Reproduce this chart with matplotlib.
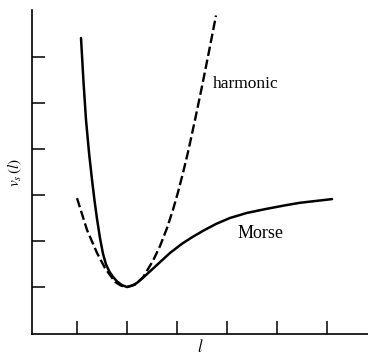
import matplotlib
matplotlib.use('Agg')
import matplotlib.pyplot as plt

# values (x and y in tick units)
morse_l = [1.08, 1.13, 1.18, 1.24, 1.30, 1.35, 1.40, 1.46, 1.52, 1.58, 1.65, 1.72, 1.80,
           1.90, 2.00, 2.10, 2.20, 2.32, 2.45, 2.60, 2.86, 3.10, 3.30, 3.52, 3.78, 4.06,
           4.40, 4.80, 5.14, 5.46, 5.78, 6.10]
morse_v = [6.41, 5.45, 4.63, 3.92, 3.33, 2.88, 2.48, 2.06, 1.72, 1.49, 1.33, 1.22, 1.12,
           1.04, 1.00, 1.03, 1.09, 1.20, 1.33, 1.48, 1.74, 1.94, 2.08, 2.22, 2.37, 2.50,
           2.61, 2.70, 2.77, 2.83, 2.87, 2.91]

harm_l = [1.00, 1.20, 1.40, 1.56, 1.76, 1.88, 2.00, 2.16, 2.32, 2.52, 2.66, 2.80, 2.92,
          3.02, 3.12, 3.22, 3.36, 3.50, 3.64, 3.78]
harm_v = [2.93, 2.24, 1.74, 1.41, 1.11, 1.03, 1.00, 1.05, 1.21, 1.57, 1.89, 2.28, 2.68,
          3.06, 3.48, 3.93, 4.63, 5.36, 6.12, 6.90]

ticks = [1, 2, 3, 4, 5, 6]

plt.rcParams['font.family'] = 'Liberation Serif'
plt.rcParams['mathtext.fontset'] = 'stix'

fig = plt.figure(figsize=(3.68, 3.56), dpi=100)
ax = fig.add_axes([0.087, 0.062, 0.913, 0.91])

ax.plot(morse_l, morse_v, color='black', linewidth=1.8,
        solid_capstyle='round', solid_joinstyle='round')
line, = ax.plot(harm_l, harm_v, color='black', linewidth=1.7)
line.set_dashes((4, 1.6))

ax.text(3.72, 5.33, 'harmonic', fontsize=12.5, va='baseline', ha='left')
ax.text(4.22, 2.07, 'Morse', fontsize=13, va='baseline', ha='left')

ax.set_xlim(0.1, 6.82)
ax.set_ylim(-0.02, 7.02)
ax.set_xticks(ticks)
ax.set_yticks(ticks)
ax.set_xticklabels([])
ax.set_yticklabels([])
ax.tick_params(direction='in', length=9.5, width=1.1)
ax.spines['top'].set_visible(False)
ax.spines['right'].set_visible(False)
for s in ['left', 'bottom']:
    ax.spines[s].set_linewidth(1.2)

ax.set_xlabel(r'$l$', fontsize=12, labelpad=0)
ax.set_ylabel(r'$v_s\,(l)$', fontsize=11, labelpad=2)

fig.savefig('out.png', dpi=100)
